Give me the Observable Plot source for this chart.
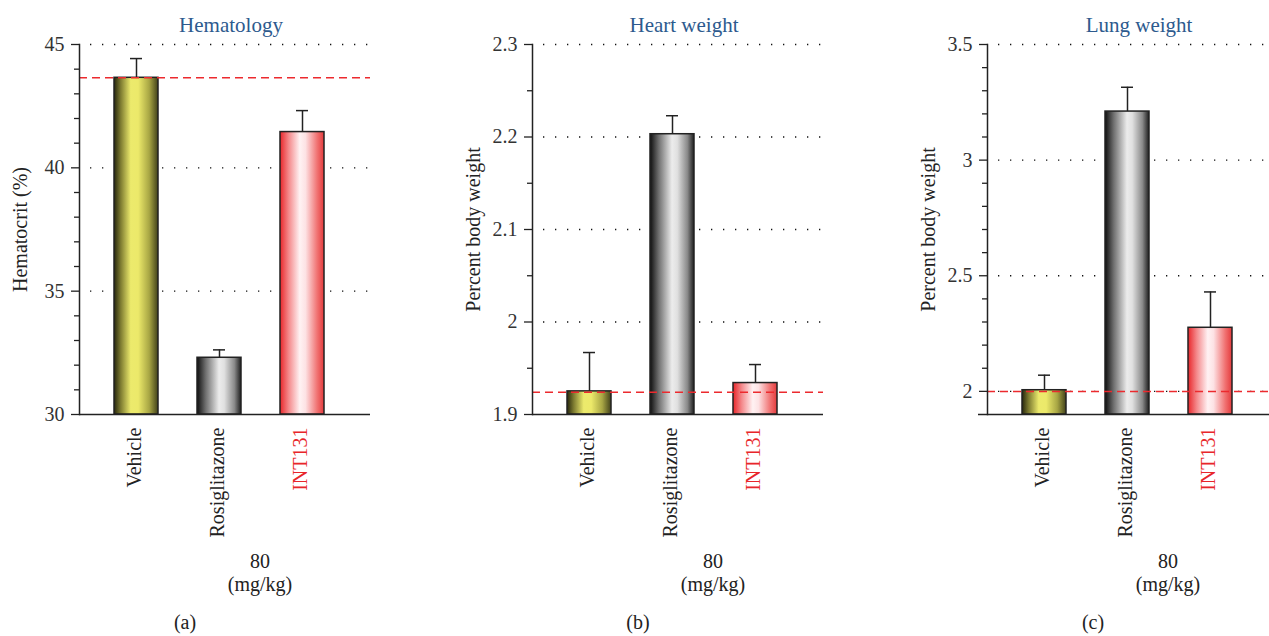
<!DOCTYPE html>
<html>
<head>
<meta charset="utf-8">
<script src="https://cdn.jsdelivr.net/npm/d3@7"></script>
<script src="https://cdn.jsdelivr.net/npm/@observablehq/plot@0.6"></script>
<style>
  html, body { margin: 0; padding: 0; background: #fff; overflow: hidden; }
  #wrap { position: relative; width: 1269px; height: 636px; overflow: hidden; }
  .panel { position: absolute; top: 0; }
  #wrap svg, #wrap svg text { font-family: 'Liberation Serif', 'DejaVu Serif', serif !important; }
</style>
</head>
<body>
<div id="wrap"></div>
<script>
// ---- data ----
const categories = ["Vehicle", "Rosiglitazone", "INT131"];
const labelColors = ["#222222", "#222222", "#e8262a"];

const hematocrit = [43.65, 32.3, 41.45];
const hematocritErr = [0.78, 0.32, 0.87];
const hematocritRef = 43.65;
const hematocritMajor = [30, 35, 40, 45];
const hematocritMajorLabels = ["30", "35", "40", "45"];
const hematocritMinor = [31, 32, 33, 34, 36, 37, 38, 39, 41, 42, 43, 44];

const heartWeight = [1.925, 2.203, 1.934];
const heartWeightErr = [0.042, 0.02, 0.02];
const heartWeightRef = 1.924;
const heartMajor = [1.9, 2.0, 2.1, 2.2, 2.3];
const heartMajorLabels = ["1.9", "2", "2.1", "2.2", "2.3"];
const heartMinor = [1.95, 2.05, 2.15, 2.25];

const lungWeight = [2.005, 3.21, 2.275];
const lungWeightErr = [0.065, 0.105, 0.155];
const lungWeightRef = 2.0;
const lungMajor = [2.0, 2.5, 3.0, 3.5];
const lungMajorLabels = ["2", "2.5", "3", "3.5"];
const lungMinor = [2.1, 2.2, 2.3, 2.4, 2.6, 2.7, 2.8, 2.9, 3.1, 3.2, 3.3, 3.4];
const lungBaseTick = [1.9];

const panels = [
  {title: "Hematology", ylabel: "Hematocrit (%)", values: hematocrit, errs: hematocritErr, ref: hematocritRef,
   domain: [30, 45], major: hematocritMajor, majorLabels: hematocritMajorLabels, minor: hematocritMinor, extra: [], tag: "(a)"},
  {title: "Heart weight", ylabel: "Percent body weight", values: heartWeight, errs: heartWeightErr, ref: heartWeightRef,
   domain: [1.9, 2.3], major: heartMajor, majorLabels: heartMajorLabels, minor: heartMinor, extra: [], tag: "(b)"},
  {title: "Lung weight", ylabel: "Percent body weight", values: lungWeight, errs: lungWeightErr, ref: lungWeightRef,
   domain: [1.9, 3.5], major: lungMajor, majorLabels: lungMajorLabels, minor: lungMinor, extra: lungBaseTick, tag: "(c)"}
];

// ---- gradients (style only) ----
const gradDefs = {
  gVehicle: [[0, "#26260c"], [0.15, "#7c7a30"], [0.38, "#ecea6c"], [0.55, "#ece96a"], [0.8, "#a8a644"], [1, "#42421a"]],
  gRosi: [[0, "#0e0e0e"], [0.2, "#707070"], [0.5, "#ececec"], [0.62, "#e0e0e0"], [0.85, "#8a8a8a"], [1, "#1e1e1e"]],
  gINT: [[0, "#e8262a"], [0.2, "#f48a8c"], [0.45, "#fff2f3"], [0.58, "#fde2e4"], [0.85, "#f07070"], [1, "#e43a3c"]]
};
const gradIds = ["gVehicle", "gRosi", "gINT"];
const defsSvg = d3.select("body").append("svg")
  .attr("width", 0).attr("height", 0)
  .style("position", "absolute").style("left", "0").style("top", "0");
const defs = defsSvg.append("defs");
for (const [id, stops] of Object.entries(gradDefs)) {
  const g = defs.append("linearGradient").attr("id", id)
    .attr("x1", "0%").attr("x2", "100%").attr("y1", "0%").attr("y2", "0%");
  for (const [o, c] of stops) g.append("stop").attr("offset", o).attr("stop-color", c);
}

const FONT = "Liberation Serif";
const INK = "#222";
const FS = 20;
const panelLeft = [0, 453, 908];

panels.forEach((p, i) => {
  const rows = categories.map((c, k) => ({
    cat: c, value: p.values[k], top: p.values[k] + p.errs[k], grad: `url(#${gradIds[k]})`, color: labelColors[k]
  }));
  const ymin = p.domain[0];
  const labelOf = new Map(p.major.map((v, k) => [v, p.majorLabels[k]]));
  const T = {fontFamily: FONT, fontSize: FS, lineAnchor: "middle"};
  const chart = Plot.plot({
    width: 454,
    height: 636,
    marginLeft: 79,
    marginRight: 84,
    marginTop: 44,
    marginBottom: 222,
    style: {fontFamily: FONT, fontSize: "20px", color: INK, background: "transparent", overflow: "visible"},
    x: {domain: categories, paddingInner: 0.473, paddingOuter: 0.479, align: 0.425, axis: null},
    y: {domain: p.domain, axis: null},
    marks: [
      Plot.ruleY(p.major.filter(v => v !== ymin), {stroke: "#111", strokeWidth: 1.3, strokeDasharray: "1.3,10.7", strokeDashoffset: -11}),
      Plot.barY(rows, {x: "cat", y1: ymin, y2: "value", fill: "grad", stroke: INK, strokeWidth: 1.5}),
      Plot.ruleX(rows, {x: "cat", y1: "value", y2: "top", stroke: INK, strokeWidth: 1.5}),
      Plot.tickY(rows, {x: "cat", y: "top", stroke: INK, strokeWidth: 1.5, insetLeft: 16, insetRight: 16}),
      Plot.ruleY([p.ref], {stroke: "#ec2a2e", strokeWidth: 1.5, strokeDasharray: "8,5"}),
      Plot.frame({anchor: "left", stroke: INK, strokeWidth: 1.5}),
      Plot.ruleY([ymin], {stroke: INK, strokeWidth: 1.5}),
      Plot.axisY(p.minor, {tickSize: 5, stroke: INK, strokeWidth: 1.3, tickFormat: () => ""}),
      Plot.axisY(p.extra, {tickSize: 9, stroke: INK, strokeWidth: 1.5, tickFormat: () => ""}),
      Plot.axisY(p.major, {tickSize: 8, tickPadding: 7, stroke: INK, strokeWidth: 1.3, fill: "#333",
        fontFamily: FONT, fontSize: FS, tickFormat: v => labelOf.get(v)}),
      Plot.text([p.ylabel], {frameAnchor: "left", dx: -59, rotate: -90, textAnchor: "middle", fill: INK, ...T}),
      Plot.text(rows, {x: "cat", text: "cat", frameAnchor: "bottom", dx: -2, dy: 13, rotate: -90, textAnchor: "end", fill: "color", ...T}),
      Plot.text([p.title], {frameAnchor: "top", dx: 6, dy: -19, textAnchor: "middle", fill: "#2d5a8e", ...T, fontSize: 21}),
      Plot.text(["80"], {frameAnchor: "bottom", dx: 35, dy: 147, textAnchor: "middle", fill: INK, ...T}),
      Plot.text(["(mg/kg)"], {frameAnchor: "bottom", dx: 35, dy: 170, textAnchor: "middle", fill: INK, ...T}),
      Plot.text([p.tag], {frameAnchor: "bottom", dx: -40, dy: 208, textAnchor: "middle", fill: INK, ...T})
    ]
  });
  chart.classList.add("panel");
  chart.style.left = panelLeft[i] + "px";
  chart.style.position = "absolute";
  document.getElementById("wrap").appendChild(chart);
});
</script>
</body>
</html>
